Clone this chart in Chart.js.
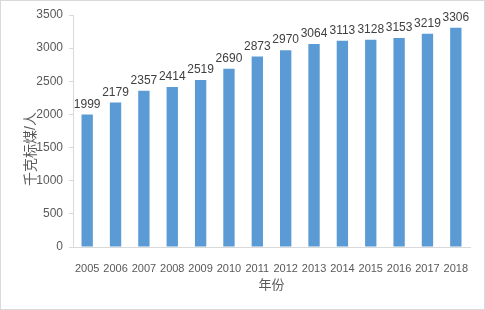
<!DOCTYPE html>
<html>
<head>
<meta charset="utf-8">
<script src="https://cdn.jsdelivr.net/npm/chart.js@4/dist/chart.umd.min.js"></script>
<style>
  html, body { margin: 0; padding: 0; background: #fff; }
  #wrap { position: relative; width: 483px; height: 308px; border: 1px solid #d9d9d9; }
</style>
</head>
<body>
<div id="wrap"><canvas id="chart" width="483" height="308"></canvas></div>
<script>
// Per-capita energy consumption, kgce per person
const years = ['2005', '2006', '2007', '2008', '2009', '2010', '2011',
               '2012', '2013', '2014', '2015', '2016', '2017', '2018'];
const perCapita = [1999, 2179, 2357, 2414, 2519, 2690, 2873,
                   2970, 3064, 3113, 3128, 3153, 3219, 3306];
const yTitle = '千克标煤/人';
const xTitle = '年份';

const textFont = "'Liberation Sans', 'Noto Sans CJK SC', sans-serif";

// draw the value above each bar
const barLabels = {
    id: 'barLabels',
    afterDatasetsDraw(chart) {
        const ctx = chart.ctx;
        const meta = chart.getDatasetMeta(0);
        ctx.save();
        ctx.font = '12px ' + textFont;
        ctx.fillStyle = '#404040';
        ctx.textAlign = 'center';
        ctx.textBaseline = 'bottom';
        meta.data.forEach((bar, i) => {
            ctx.fillText(String(perCapita[i]), bar.x, bar.y - 4);
        });
        ctx.restore();
    }
};

// y title sits a bit lower than the plot centre, like the Excel original
const yTitlePlugin = {
    id: 'yTitlePlugin',
    afterDraw(chart) {
        const ctx = chart.ctx;
        const area = chart.chartArea;
        ctx.save();
        ctx.translate(30, (area.top + area.bottom) / 2 + 18);
        ctx.rotate(-Math.PI / 2);
        ctx.font = '14px ' + textFont;
        ctx.fillStyle = '#595959';
        ctx.textAlign = 'center';
        ctx.textBaseline = 'middle';
        ctx.fillText(yTitle, 0, 0);
        ctx.restore();
    }
};

new Chart(document.getElementById('chart'), {
    type: 'bar',
    data: {
        labels: years,
        datasets: [{
            data: perCapita,
            backgroundColor: '#5b9bd5',
            categoryPercentage: 1,
            barPercentage: 0.4
        }]
    },
    options: {
        responsive: false,
        animation: false,
        layout: { padding: { left: 20, right: 14, top: 14, bottom: 12 } },
        plugins: {
            legend: { display: false },
            tooltip: { enabled: false }
        },
        scales: {
            x: {
                grid: { display: false },
                border: { color: '#d9d9d9' },
                ticks: {
                    color: '#595959', font: { family: textFont, size: 11 },
                    maxRotation: 0, autoSkip: false, padding: 7
                },
                title: { display: true, text: xTitle, color: '#595959', font: { family: textFont, size: 13 }, padding: { top: 10 } },
                afterFit(scale) { scale.height = 50; }
            },
            y: {
                min: 0,
                max: 3500,
                ticks: {
                    stepSize: 500, color: '#595959', font: { family: textFont, size: 12 }, padding: 6,
                    callback: v => String(v)
                },
                grid: { drawOnChartArea: false, color: '#d9d9d9', tickLength: 4 },
                border: { color: '#d9d9d9' },
                afterFit(scale) { scale.width = 52; }
            }
        }
    },
    plugins: [barLabels, yTitlePlugin]
});
</script>
</body>
</html>
